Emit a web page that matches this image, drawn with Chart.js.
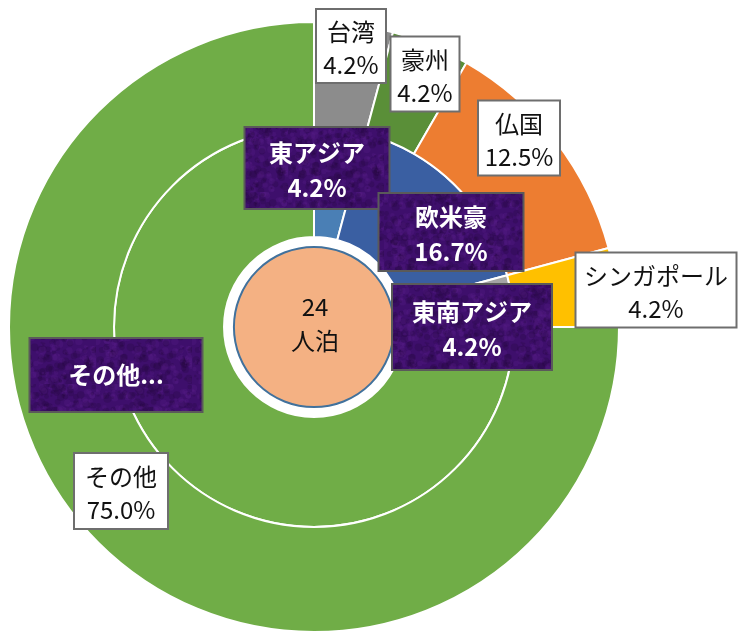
<!DOCTYPE html>
<html>
<head>
<meta charset="utf-8">
<script src="https://cdn.jsdelivr.net/npm/chart.js@4.4.0/dist/chart.umd.min.js"></script>
<style>
  html, body { margin: 0; padding: 0; background: #fff; overflow: hidden; }
  #wrap { width: 738px; height: 632px; overflow: hidden; }
</style>
</head>
<body>
<div id="wrap"><canvas id="myChart" width="738" height="640"></canvas></div>
<script>
// counts per region (24 人泊 in total)
const outerLabels = ["台湾", "豪州", "仏国", "シンガポール", "その他"];
const outerValues = [1, 1, 3, 1, 18];
const innerLabels = ["東アジア", "欧米豪", "東南アジア", "その他"];
const innerValues = [1, 4, 1, 18];
const centerUnit = "人泊";

const outerColors = ["#8c8c8c", "#5a8f38", "#ed7d31", "#ffc000", "#70ad47"];
const innerColors = ["#4a7fb5", "#3a5fa2", "#a5a5a5", "#70ad47"];

// label boxes: offset of box centre from chart centre, box size
const outerBoxes = [
  { dx: 37, dy: -281, w: 70, h: 74 },
  { dx: 111, dy: -253, w: 69, h: 75 },
  { dx: 205, dy: -189, w: 82, h: 75 },
  { dx: 342, dy: -37, w: 161, h: 75 },
  { dx: -193, dy: 164, w: 94, h: 76 }
];
const innerBoxes = [
  { dx: 3, dy: -159, w: 145, h: 82 },
  { dx: 137, dy: -95, w: 145, h: 78 },
  { dx: 158, dy: 0, w: 160, h: 86 },
  { dx: -198, dy: 48, w: 173, h: 74, short: true }
];

const FONT = "'Noto Sans CJK JP', 'Noto Sans', sans-serif";

// purple texture for inner labels
function makeTexture(ctx) {
  const c = document.createElement("canvas");
  c.width = 96; c.height = 96;
  const g = c.getContext("2d");
  g.fillStyle = "#3e0f6c";
  g.fillRect(0, 0, 96, 96);
  let s = 12345;
  const next = () => { s = (s * 1103515245 + 12345) % 2147483648; return s / 2147483648; };
  for (let i = 0; i < 500; i++) {
    const x = next() * 96, y = next() * 96, r = 1 + next() * 3;
    g.fillStyle = next() > 0.5 ? "rgba(90,30,140,0.25)" : "rgba(35,8,60,0.25)";
    g.beginPath(); g.arc(x, y, r, 0, Math.PI * 2); g.fill();
  }
  return ctx.createPattern(c, "repeat");
}

function pct(v, arr) {
  const total = arr.reduce((a, b) => a + b, 0);
  return (v / total * 100).toFixed(1) + "%";
}

const labelPlugin = {
  id: "labelPlugin",
  afterDatasetsDraw(chart) {
    const ctx = chart.ctx;
    const arc = chart.getDatasetMeta(1).data[0];
    const cx = arc.x, cy = arc.y;
    const r = arc.innerRadius * 0.89;
    ctx.save();
    ctx.beginPath();
    ctx.arc(cx, cy, r, 0, Math.PI * 2);
    ctx.fillStyle = "#f4b183";
    ctx.fill();
    ctx.lineWidth = 2;
    ctx.strokeStyle = "#41719c";
    ctx.stroke();
    const total = innerValues.reduce((a, b) => a + b, 0);
    ctx.fillStyle = "#111";
    ctx.font = "24px " + FONT;
    ctx.textAlign = "center";
    ctx.textBaseline = "middle";
    ctx.fillText(String(total), cx + 1, cy - 20);
    ctx.fillText(centerUnit, cx + 1, cy + 14);
    ctx.restore();
  },
  afterDraw(chart) {
    const ctx = chart.ctx;
    const arc = chart.getDatasetMeta(0).data[0];
    const cx = arc.x, cy = arc.y;
    const tex = makeTexture(ctx);
    ctx.save();
    ctx.textAlign = "center";
    ctx.textBaseline = "middle";

    outerLabels.forEach((name, i) => {
      const b = outerBoxes[i];
      const x = cx + b.dx - b.w / 2, y = cy + b.dy - b.h / 2;
      ctx.fillStyle = "#ffffff";
      ctx.fillRect(x, y, b.w, b.h);
      ctx.lineWidth = 2;
      ctx.strokeStyle = "#6e6e6e";
      ctx.strokeRect(x, y, b.w, b.h);
      ctx.fillStyle = "#111";
      ctx.font = "24px " + FONT;
      ctx.fillText(name, cx + b.dx, cy + b.dy - 14);
      ctx.fillText(pct(outerValues[i], outerValues), cx + b.dx, cy + b.dy + 19);
    });

    innerLabels.forEach((name, i) => {
      const b = innerBoxes[i];
      const x = cx + b.dx - b.w / 2, y = cy + b.dy - b.h / 2;
      ctx.fillStyle = tex;
      ctx.fillRect(x, y, b.w, b.h);
      ctx.lineWidth = 2;
      ctx.strokeStyle = "#5a5a5a";
      ctx.strokeRect(x, y, b.w, b.h);
      ctx.fillStyle = "#ffffff";
      ctx.font = "bold 24px " + FONT;
      if (b.short) {
        ctx.fillText(name + "...", cx + b.dx, cy + b.dy);
      } else {
        ctx.fillText(name, cx + b.dx, cy + b.dy - 15);
        ctx.fillText(pct(innerValues[i], innerValues), cx + b.dx, cy + b.dy + 20);
      }
    });
    ctx.restore();
  }
};

new Chart(document.getElementById("myChart").getContext("2d"), {
  type: "doughnut",
  data: {
    labels: outerLabels,
    datasets: [
      {
        label: "国・地域",
        data: outerValues,
        backgroundColor: outerColors,
        borderColor: "#ffffff",
        borderWidth: 2,
        weight: 105
      },
      {
        label: "地域",
        data: innerValues,
        backgroundColor: innerColors,
        borderColor: "#ffffff",
        borderWidth: 2,
        weight: 110
      }
    ]
  },
  options: {
    responsive: false,
    animation: false,
    cutout: "29.5%",
    layout: { padding: { left: 8, top: 21, right: 118, bottom: 7 } },
    plugins: {
      legend: { display: false },
      tooltip: { enabled: false }
    }
  },
  plugins: [labelPlugin]
});
</script>
</body>
</html>
